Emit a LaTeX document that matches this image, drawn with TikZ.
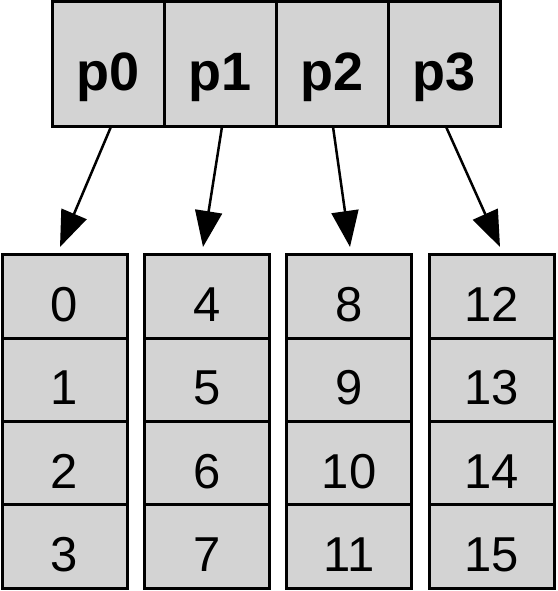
\documentclass[tikz,border=0pt]{standalone}
\usepackage{fontspec}
\setmainfont{Liberation Sans}
\usetikzlibrary{arrows.meta,calc}
\definecolor{cellgray}{HTML}{D3D3D3}
\begin{document}
\begin{tikzpicture}[x=1pt,y=-1pt,
  topcell/.style={draw, line width=3pt, fill=cellgray, minimum width=112pt, minimum height=125pt,
    inner sep=0pt, outer sep=0pt, text height=53.6pt, text depth=0pt,
    font=\fontsize{54}{54}\selectfont\bfseries},
  numcell/.style={draw, line width=3pt, fill=cellgray, minimum width=125pt, minimum height=83.25pt,
    inner sep=0pt, outer sep=0pt, text height=50pt, text depth=0pt,
    font=\fontsize{49}{49}\selectfont},
  arr/.style={line width=2.5pt, -{Triangle[length=36pt,width=27pt]}}
]
\useasboundingbox (0,0) rectangle (557,591);
% top record
\node[topcell] (p0) at (108,64.2) {p0};
\node[topcell] (p1) at (220,64.2) {p1};
\node[topcell] (p2) at (332,64.2) {p2};
\node[topcell] (p3) at (444,64.2) {p3};
% columns
\foreach \c/\x in {0/64.5,1/206.8,2/349.1,3/491.5}{
  \foreach \r/\y in {0/296.6,1/379.9,2/463.1,3/546.4}{
    \pgfmathtruncatemacro{\v}{4*\c+\r}
    \node[numcell] (c\c r\r) at (\x,\y) {\v};
  }
}
% arrows
\draw[arr] ($(p0.south)+(3,0)$) -- ($(c0r0.north)+(-4.5,-8)$);
\draw[arr] ($(p1.south)+(2,0)$) -- ($(c1r0.north)+(-3.8,-8)$);
\draw[arr] ($(p2.south)+(1,0)$) -- ($(c2r0.north)+(0.9,-8)$);
\draw[arr] ($(p3.south)+(2,0)$) -- ($(c3r0.north)+(8.5,-8)$);
\end{tikzpicture}
\end{document}
